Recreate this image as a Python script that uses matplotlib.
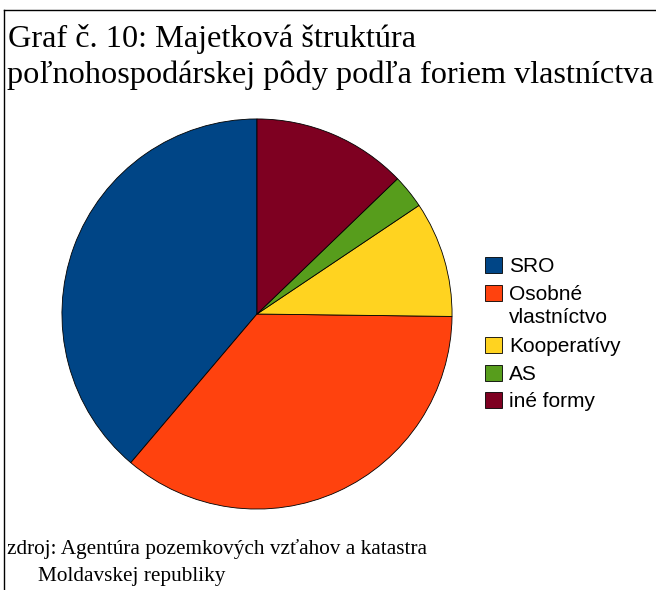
import matplotlib
matplotlib.use("Agg")
import matplotlib.pyplot as plt
from matplotlib.patches import Rectangle
from matplotlib.lines import Line2D

# data
labels = ["SRO", "Osobné\nvlastníctvo", "Kooperatívy", "AS", "iné formy"]
values = [38.8, 36.0, 9.6, 2.8, 12.8]
colors = ["#004586", "#ff420e", "#ffd320", "#579d1c", "#7e0021"]

title_lines = ["Graf č. 10: Majetková štruktúra",
               "poľnohospodárskej pôdy podľa foriem vlastníctva"]
source_lines = ["zdroj: Agentúra pozemkových vzťahov a katastra",
                "Moldavskej republiky"]

W, H = 656, 590
fig = plt.figure(figsize=(W / 100, H / 100), dpi=100)


def fx(px):
    return px / W


def fy(py):
    return 1 - py / H


# pie axes: center (257, 314), radius 197 px
cx, cy, r = 257, 314, 197
ax = fig.add_axes([(cx - r) / W, (H - cy - r) / H, 2 * r / W, 2 * r / H])
ax.pie(values, colors=colors, startangle=90, counterclock=True,
       radius=1, wedgeprops=dict(edgecolor="black", linewidth=0.6))
ax.set_xlim(-1.01, 1.01)
ax.set_ylim(-1.01, 1.01)
ax.set_aspect("auto")
ax.axis("off")

# frame lines (top and left)
fig.add_artist(Line2D([fx(4), 1], [fy(10), fy(10)], color="black", lw=1))
fig.add_artist(Line2D([fx(4), fx(4)], [0, fy(10)], color="black", lw=1))

serif = ["Liberation Serif", "DejaVu Serif"]
sans = ["Liberation Sans", "DejaVu Sans"]

fig.text(fx(8), fy(47), title_lines[0], family=serif, fontsize=23.2, va="baseline")
fig.text(fx(7), fy(83), title_lines[1], family=serif, fontsize=23.2, va="baseline")
fig.text(fx(7), fy(554), source_lines[0], family=serif, fontsize=15.3, va="baseline")
fig.text(fx(38), fy(581), source_lines[1], family=serif, fontsize=15.3, va="baseline")

# legend
y = 265
for lab, col in zip(labels, colors):
    fig.add_artist(Rectangle((fx(485), fy(y + 8)), 17 / W, 16 / H,
                             facecolor=col, edgecolor="black", lw=0.6,
                             transform=fig.transFigure))
    parts = lab.split("\n")
    for k, part in enumerate(parts):
        fig.text(fx(509), fy(y + 7.3 + 23 * k), part, family=sans, fontsize=15,
                 va="baseline")
    y += 27.5 + 25 * (len(parts) - 1)

fig.savefig("out.png", dpi=100)
